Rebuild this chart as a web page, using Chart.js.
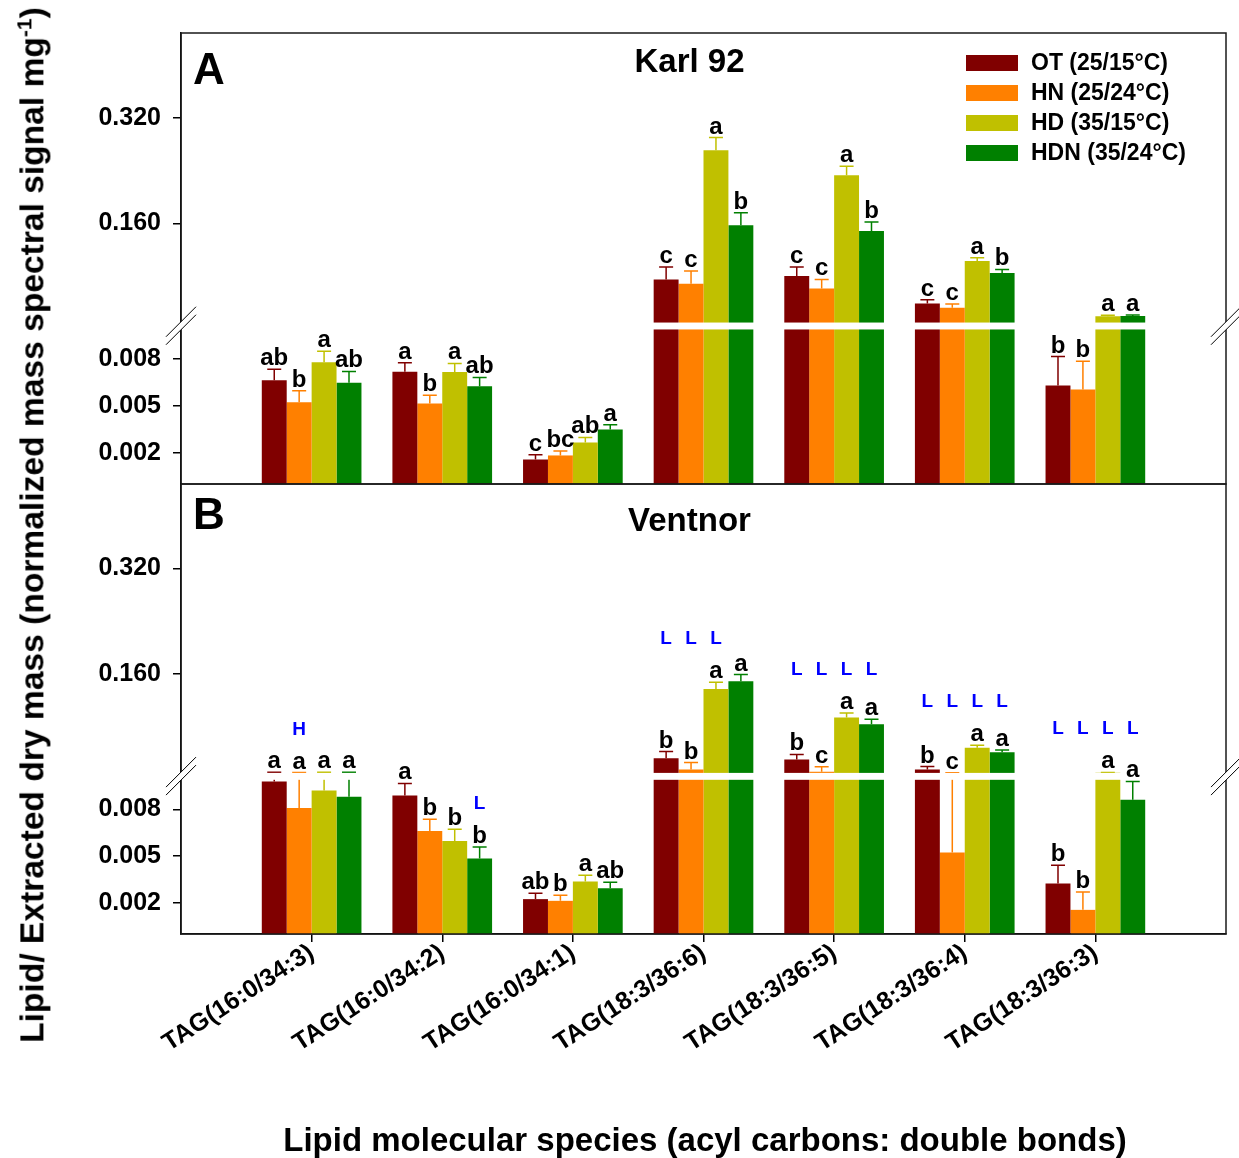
<!DOCTYPE html>
<html>
<head>
<meta charset="utf-8">
<title>TAG species - Karl 92 / Ventnor</title>
<script src="https://cdn.jsdelivr.net/npm/chart.js@4.4.1/dist/chart.umd.min.js"></script>
<style>
  body { margin: 0; background: #fff; }
  #wrap { position: relative; width: 1239px; height: 1158px; overflow: hidden;
          font-family: "Liberation Sans", Arial, sans-serif; color: #000; }
  #wrap canvas { position: absolute; left: 0; }
  #cA { top: 0; }
  #cB { top: 444px; }
  #ytitle { position: absolute; left: 32px; top: 525px; white-space: nowrap;
            transform: translate(-50%, -50%) rotate(-90deg);
            font-weight: bold; font-size: 33.6px; }
  #ytitle sup { font-size: 21px; }
  #xtitle { position: absolute; left: 705px; top: 1140px; white-space: nowrap;
            transform: translate(-50%, -50%); font-weight: bold; font-size: 33px; }
</style>
</head>
<body>
<div id="wrap">
  <canvas id="cA" width="1239" height="494"></canvas>
  <canvas id="cB" width="1239" height="714"></canvas>
  <div id="ytitle">Lipid/ Extracted dry mass (normalized mass spectral signal mg<sup>-1</sup>)</div>
  <div id="xtitle">Lipid molecular species (acyl carbons: double bonds)</div>
</div>
<script>
var categories = ['TAG(16:0/34:3)', 'TAG(16:0/34:2)', 'TAG(16:0/34:1)', 'TAG(18:3/36:6)',
                  'TAG(18:3/36:5)', 'TAG(18:3/36:4)', 'TAG(18:3/36:3)'];
var seriesNames = ['OT (25/15°C)', 'HN (25/24°C)', 'HD (35/15°C)', 'HDN (35/24°C)'];
var seriesColors = ['#800000', '#ff8000', '#c0c000', '#008000'];
var yTicks = [0.002, 0.005, 0.008, 0.160, 0.320];

// Karl 92 (panel A)
var karlOT  = [0.00665, 0.00719, 0.00157, 0.0753, 0.0803, 0.0389, 0.00631];
var karlHN  = [0.00524, 0.00516, 0.00183, 0.0688, 0.0616, 0.0324, 0.00606];
var karlHD  = [0.00781, 0.00717, 0.00266, 0.2706, 0.2328, 0.1030, 0.0197];
var karlHDN = [0.00649, 0.00627, 0.00349, 0.1570, 0.1484, 0.0848, 0.0198];
var karlOTErr  = [0.00070, 0.00058, 0.00030, 0.0186, 0.0136, 0.0056, 0.00186];
var karlHNErr  = [0.00073, 0.00053, 0.00028, 0.0190, 0.0136, 0.0055, 0.00181];
var karlHDErr  = [0.00070, 0.00056, 0.00032, 0.0192, 0.0136, 0.0051, 0.0015];
var karlHDNErr = [0.00072, 0.00056, 0.00030, 0.0192, 0.0136, 0.0056, 0.0015];
var karlOTSig  = ['ab', 'a', 'c', 'c', 'c', 'c', 'b'];
var karlHNSig  = ['b', 'b', 'bc', 'c', 'c', 'c', 'b'];
var karlHDSig  = ['a', 'a', 'ab', 'a', 'a', 'a', 'a'];
var karlHDNSig = ['ab', 'ab', 'a', 'b', 'b', 'b', 'a'];

// Ventnor (panel B)
var ventOT  = [0.0098, 0.0089, 0.00224, 0.0323, 0.0303, 0.0152, 0.00324];
var ventHN  = [0.0081, 0.00662, 0.00213, 0.0151, 0.0117, 0.00523, 0.00155];
var ventHD  = [0.00922, 0.00597, 0.00337, 0.1373, 0.0939, 0.0480, 0.0102];
var ventHDN = [0.00882, 0.00485, 0.00294, 0.1489, 0.0837, 0.0413, 0.00863];
var ventOTErr  = [0.0013, 0.00077, 0.00038, 0.0101, 0.0076, 0.0045, 0.00117];
var ventHNErr  = [0.0025, 0.00075, 0.00036, 0.0106, 0.0076, 0.0049, 0.00115];
var ventHDErr  = [0.0018, 0.00075, 0.00040, 0.0100, 0.0071, 0.0040, 0.0005];
var ventHDNErr = [0.0022, 0.00074, 0.00038, 0.0101, 0.0076, 0.0036, 0.00117];
var ventOTSig  = ['a', 'a', 'ab', 'b', 'b', 'b', 'b'];
var ventHNSig  = ['a', 'b', 'b', 'b', 'c', 'c', 'b'];
var ventHDSig  = ['a', 'b', 'a', 'a', 'a', 'a', 'a'];
var ventHDNSig = ['a', 'b', 'ab', 'a', 'a', 'a', 'a'];
var ventOTTag  = ['', '', '', 'L', 'L', 'L', 'L'];
var ventHNTag  = ['H', '', '', 'L', 'L', 'L', 'L'];
var ventHDTag  = ['', '', '', 'L', 'L', 'L', 'L'];
var ventHDNTag = ['', 'L', '', '', 'L', 'L', 'L'];

var FONT = '"Liberation Sans", Arial, sans-serif';

// broken y axis: 0..0.01 in the lower part, 0.01..top in the upper part
var BRK = 0.01, LOW = 0.346, GAP = 0.012, YMAX = 0.448;

class BrokenScale extends Chart.LinearScale {
  buildTicks() {
    return yTicks.map(function (v) { return { value: v }; });
  }
  getPixelForValue(v) {
    var d = v <= BRK ? v / BRK * LOW : LOW + GAP + (v - BRK) / (YMAX - BRK) * (1 - LOW - GAP);
    return this.getPixelForDecimal(d);
  }
  getValueForPixel(p) {
    var d = this.getDecimalForPixel(p);
    return d <= LOW ? d / LOW * BRK : BRK + (d - LOW - GAP) / (1 - LOW - GAP) * (YMAX - BRK);
  }
}
BrokenScale.id = 'broken';
Chart.register(BrokenScale);

function slash(ctx, x, yc) {
  ctx.save();
  ctx.fillStyle = '#fff';
  ctx.beginPath();
  ctx.moveTo(x - 15, yc + 11); ctx.lineTo(x + 15, yc - 19);
  ctx.lineTo(x + 15, yc - 11); ctx.lineTo(x - 15, yc + 19);
  ctx.closePath(); ctx.fill();
  ctx.strokeStyle = '#000'; ctx.lineWidth = 1;
  ctx.beginPath();
  ctx.moveTo(x - 15, yc + 11); ctx.lineTo(x + 15, yc - 19);
  ctx.moveTo(x - 15, yc + 19); ctx.lineTo(x + 15, yc - 11);
  ctx.stroke();
  ctx.restore();
}

function makePanel(id, p) {
  var datasets = seriesNames.map(function (name, s) {
    return {
      label: name,
      data: p.values[s].map(function (v, i) { return { x: i + 1, y: v }; }),
      backgroundColor: seriesColors[s],
      borderWidth: 0,
      categoryPercentage: 0.763,
      barPercentage: 1.0
    };
  });

  var decor = {
    id: 'decor' + id,
    afterDatasetsDraw: function (chart) {
      var ctx = chart.ctx, y = chart.scales.y, a = chart.chartArea;
      // error bars (upper side only)
      datasets.forEach(function (ds, s) {
        chart.getDatasetMeta(s).data.forEach(function (bar, i) {
          var top = y.getPixelForValue(p.values[s][i] + p.errs[s][i]);
          ctx.save();
          ctx.strokeStyle = seriesColors[s];
          ctx.lineWidth = 1.5;
          ctx.beginPath();
          ctx.moveTo(bar.x, bar.y); ctx.lineTo(bar.x, top);
          ctx.moveTo(bar.x - 7, top); ctx.lineTo(bar.x + 7, top);
          ctx.stroke();
          ctx.restore();
        });
      });
      // white band at the axis break
      var yUp = y.getPixelForDecimal(LOW + GAP), yLow = y.getPixelForDecimal(LOW);
      ctx.fillStyle = '#fff';
      ctx.fillRect(a.left + 1, yUp, a.right - a.left - 2, yLow - yUp + 1.5);
    },
    afterDraw: function (chart) {
      var ctx = chart.ctx, y = chart.scales.y, a = chart.chartArea;
      ctx.save();
      ctx.strokeStyle = '#1a1a1a';
      ctx.lineWidth = 1.5;
      ctx.strokeRect(a.left, a.top, a.right - a.left, a.bottom - a.top);
      var yc = (y.getPixelForDecimal(LOW + GAP) + y.getPixelForDecimal(LOW)) / 2 + 0.5;
      slash(ctx, a.left, yc);
      slash(ctx, a.right, yc);

      // significance letters
      ctx.fillStyle = '#000';
      ctx.textAlign = 'center';
      ctx.textBaseline = 'alphabetic';
      ctx.font = 'bold 24px ' + FONT;
      var capY = datasets.map(function (ds, s) {
        return chart.getDatasetMeta(s).data.map(function (bar, i) {
          return y.getPixelForValue(p.values[s][i] + p.errs[s][i]);
        });
      });
      datasets.forEach(function (ds, s) {
        chart.getDatasetMeta(s).data.forEach(function (bar, i) {
          ctx.fillText(p.sig[s][i], bar.x, capY[s][i] - 4);
        });
      });

      // blue H / L tags
      if (p.tags) {
        ctx.fillStyle = '#0000ff';
        ctx.font = 'bold 19px ' + FONT;
        categories.forEach(function (c, i) {
          var m = Infinity;
          for (var s = 0; s < 4; s++) if (p.tags[s][i]) m = Math.min(m, capY[s][i] - 4);
          if (m === Infinity) return;
          for (var t = 0; t < 4; t++) {
            if (!p.tags[t][i]) continue;
            var bar = chart.getDatasetMeta(t).data[i];
            ctx.fillText(p.tags[t][i], bar.x, m - 34);
          }
        });
      }

      // panel letter and title
      ctx.fillStyle = '#000';
      ctx.textBaseline = 'middle';
      ctx.font = 'bold 44px ' + FONT;
      ctx.fillText(p.letter, a.left + 28, a.top + p.letterDy);
      ctx.font = 'bold 33px ' + FONT;
      ctx.fillText(p.title, (a.left + a.right) / 2 - 14, a.top + p.titleDy);

      // legend
      if (p.legend) {
        ctx.font = 'bold 23px ' + FONT;
        ctx.textAlign = 'left';
        seriesNames.forEach(function (name, s) {
          ctx.fillStyle = seriesColors[s];
          ctx.fillRect(a.right - 260, a.top + 22 + 30 * s, 52, 16);
          ctx.fillStyle = '#000';
          ctx.fillText(name, a.right - 195, a.top + 31 + 30 * s);
        });
      }
      ctx.restore();
    }
  };

  return new Chart(document.getElementById(id), {
    type: 'bar',
    data: { datasets: datasets },
    plugins: [decor],
    options: {
      responsive: false,
      animation: false,
      events: [],
      layout: { padding: { left: 0, right: 13, top: p.padTop, bottom: p.padBottom } },
      plugins: { legend: { display: false }, tooltip: { enabled: false } },
      scales: {
        x: {
          type: 'linear', min: 0, max: 8, offset: false, display: p.showX,
          afterBuildTicks: function (sc) {
            sc.ticks = categories.map(function (c, i) { return { value: i + 1 }; });
          },
          afterFit: function (sc) {
            sc.height = p.xHeight;
            sc.paddingLeft = 0; sc.paddingRight = 0;
          },
          grid: { display: true, offset: false, drawOnChartArea: false, drawTicks: true,
                  tickLength: 8, color: '#000', lineWidth: 1.5 },
          border: { display: true, color: '#000', width: 1.5 },
          ticks: {
            autoSkip: false, maxRotation: 33, minRotation: 33, padding: -4,
            color: '#000', font: { family: FONT, size: 25, weight: 'bold' },
            callback: function (v) { return categories[v - 1] || ''; }
          }
        },
        y: {
          type: 'broken', min: 0, max: YMAX,
          afterFit: function (sc) {
            sc.width = 181;
            sc.paddingTop = 0; sc.paddingBottom = 0;
          },
          grid: { display: true, drawOnChartArea: false, drawTicks: true,
                  tickLength: 8, color: '#000', lineWidth: 1.5 },
          border: { display: true, color: '#000', width: 1.5 },
          ticks: {
            autoSkip: false, padding: 12, color: '#000',
            font: { family: FONT, size: 25, weight: 'bold' },
            callback: function (v) { return v.toFixed(3); }
          }
        }
      }
    }
  });
}

makePanel('cA', {
  values: [karlOT, karlHN, karlHD, karlHDN],
  errs: [karlOTErr, karlHNErr, karlHDErr, karlHDNErr],
  sig: [karlOTSig, karlHNSig, karlHDSig, karlHDNSig],
  tags: null,
  letter: 'A', letterDy: 39, title: 'Karl 92', titleDy: 30, legend: true,
  padTop: 33, padBottom: 10, showX: false, xHeight: 0
});

makePanel('cB', {
  values: [ventOT, ventHN, ventHD, ventHDN],
  errs: [ventOTErr, ventHNErr, ventHDErr, ventHDNErr],
  sig: [ventOTSig, ventHNSig, ventHDSig, ventHDNSig],
  tags: [ventOTTag, ventHNTag, ventHDTag, ventHDNTag],
  letter: 'B', letterDy: 33, title: 'Ventnor', titleDy: 38, legend: false,
  padTop: 40, padBottom: 0, showX: true, xHeight: 224
});
</script>
</body>
</html>
